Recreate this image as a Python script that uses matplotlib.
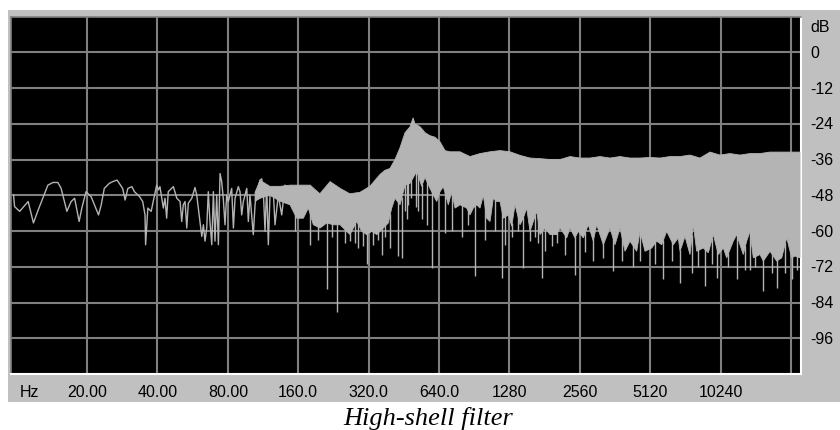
import matplotlib
matplotlib.use("Agg")
import matplotlib.pyplot as plt
from matplotlib.patches import Rectangle
from matplotlib.ticker import NullLocator
import numpy as np

# low end of the spectrum: the analyser draws a single trace here
trace_hz = [9.7, 9.8, 10.3, 11.2, 11.8, 12.3, 13.1, 13.6, 14.3, 15.0, 15.5, 16.4, 17.1, 17.7,
            18.5, 19.0, 19.8, 20.8, 22.4, 23.0, 23.7, 24.9, 25.8, 26.9, 28.4, 29.1, 29.9, 31.1,
            31.9, 33.5, 34.6, 35.4, 35.6, 36.4, 37.6, 39.7, 40.4, 41.0, 42.4, 43.1, 43.8, 44.5,
            46.8, 48.4, 50.0, 50.8, 51.6, 52.5, 53.4, 54.2, 56.1, 57.9, 58.9, 60.8, 61.9, 62.9,
            63.9, 65.0, 66.0, 67.1, 68.3, 69.4, 70.5, 71.7, 72.9, 74.1, 75.3, 76.5, 77.8, 79.1,
            80.4, 83.1, 84.5, 85.9, 88.7, 90.2, 91.7, 93.2, 96.4, 97.9, 99.5, 102.8, 104.6, 106.3,
            109.9, 111.7, 113.5, 115.4, 117.3, 119.2, 121.2, 125.2, 127.3, 131.5, 136.0, 140.5, 145.1]
trace_db = [-47.9, -51.8, -53.4, -50.1, -57.3, -53.4, -47.9, -44.6, -43.7, -43.7, -45.7, -53.4, -50.1, -49.0,
            -56.8, -52.3, -46.8, -48.4, -54.6, -51.2, -45.7, -44.0, -43.4, -42.9, -45.7, -49.6, -45.7, -45.1,
            -46.8, -48.4, -50.1, -54.6, -64.6, -52.3, -53.4, -44.6, -46.2, -45.1, -52.3, -49.0, -55.7, -46.8,
            -45.1, -49.0, -50.1, -56.8, -51.2, -50.1, -59.0, -50.7, -49.0, -45.4, -47.9, -56.8, -61.8, -57.9,
            -63.4, -59.0, -46.8, -56.8, -64.6, -46.8, -63.4, -47.9, -64.6, -40.7, -43.4, -49.0, -57.9, -47.9,
            -50.1, -45.7, -59.0, -49.0, -45.1, -46.8, -54.6, -50.1, -45.7, -56.8, -47.9, -61.2, -51.2, -46.8,
            -42.9, -42.5, -46.8, -60.1, -44.6, -64.6, -47.9, -46.8, -57.9, -47.9, -54.6, -44.6, -46.8]

# dense part: upper edge of the filled band
top_hz = [104.6, 110, 121, 134, 148, 163, 180, 198, 219, 242, 266, 294, 324, 358, 376, 395,
          415, 436, 458, 481, 496, 505, 531, 558, 586, 615, 646, 679, 713, 787, 868, 958,
          1057, 1167, 1288, 1421, 1568, 1731, 1910, 2108, 2325, 2566, 2831, 3124, 3448, 3804,
          4198, 4632, 5110, 5640, 6222, 6866, 7576, 8360, 9224, 10178, 11233, 12395, 13677,
          15093, 16655, 18378, 20280, 22380]
top_db = [-47, -43, -45, -45, -44.6, -44.6, -44.6, -47.5, -43.4, -45.7, -47.5, -47, -45, -41, -39.6, -39,
          -36, -32, -27, -25, -22, -24, -25, -27, -28, -28.5, -30, -33, -33.4, -33.4, -35, -34,
          -33.4, -33, -33.4, -34.6, -35.5, -35.7, -36, -36, -35, -35.5, -35.5, -35, -35.5, -35,
          -35.5, -35.5, -35.3, -35.5, -35, -35, -34.5, -35.5, -33.5, -34.5, -34, -34.5, -34,
          -34, -33.5, -33.5, -33.5, -33.5]

# dense part: ragged lower edge of the filled band
bottom_hz = [104.6, 110, 121, 134, 147.6, 157.7, 168.3, 176.7, 185.7, 198.3, 211.9, 226.1, 241.5,
             249.5, 266.5, 284.7, 299.0, 314.1, 330.0, 346.6, 369.9, 388.5, 401.7, 415.0, 436.0,
             458.0, 481.1, 513.9, 539.8, 557.6, 585.8, 605.1, 625.7, 646.4, 667.7, 701.4, 725.3,
             749.3, 787.1, 840.8, 868.5, 897.2, 927.7, 958.4, 990.0, 1023.7, 1057.6, 1092.5,
             1129.7, 1167, 1205.6, 1266.4, 1309.5, 1352.8, 1421, 1467.9, 1517.8, 1568, 1619.8,
             1675, 1730.3, 1817.5, 1909.4, 2039.5, 2106.8, 2250.6, 2325, 2442.2, 2522.9, 2650.2,
             2784, 2924.4, 3023.7, 3226.8, 3446.9, 3620.8, 3803.8, 3995.5, 4196.9, 4483.2, 4631.4,
             4865, 5196.7, 5458.8, 5734.1, 6023.9, 6428.4, 6752.7, 6866.4, 7213.4, 7577, 7827.4,
             8093.2, 8636.7, 9073.1, 9530.7, 10011, 10517, 10874, 11604, 12000, 12396, 12805,
             13240, 13678, 14130, 15095, 15594, 16658, 17793, 18691, 19634, 20624, 21306, 22380]
bottom_db = [-50, -49, -48, -50, -51.2, -55.7, -55.7, -52.3, -57.9, -59, -57.3, -57.9, -57.9,
             -59, -61.2, -56.8, -60.1, -61.2, -60.1, -61.2, -59, -57.3, -52.3, -49, -51.2,
             -44.6, -44, -40, -45, -42, -45.7, -47.9, -50.1, -46.8, -45.1, -51.2, -46.8,
             -52.3, -51.2, -52.3, -54.6, -52.3, -51.2, -52.3, -48, -55.7, -56.8, -49,
             -50.1, -50.1, -55.7, -54.6, -58.4, -51.2, -57.9, -55.7, -52.3, -60.1, -56.8,
             -53.4, -61.2, -59, -61.2, -61.2, -59, -62.3, -59, -62.3, -60.1, -62.3,
             -57.9, -63.4, -57.9, -64.6, -59, -64.6, -59, -66.8, -63.4, -66.8, -60.1,
             -66.8, -65.7, -63.4, -64.6, -60.1, -64.6, -62.3, -66.8, -61.8, -67.9, -57.9,
             -66.8, -65.7, -67.3, -61.2, -67.9, -65.7, -69, -63.4, -61.2, -64.6, -67.9,
             -63.4, -60.1, -69, -67.9, -70.1, -66.8, -70.1, -69, -62.3, -69, -68.4, -69]

# single bins that drop below the band
spike_hz = [155, 180, 194, 212, 223, 234, 254, 266, 280, 289, 303, 314, 335, 351, 364, 376, 395,
            429, 443, 458, 467, 473, 486, 510, 522, 541, 569, 596, 679, 728, 803, 852, 912,
            1007, 1111, 1187, 1226, 1313, 1393, 1468, 1568, 1647, 1701, 1759, 1817, 1947, 2046,
            2213, 2442, 2695, 2916, 3218, 3550, 3879, 4322, 4632, 5368, 5808, 6346, 6866, 7726,
            8200, 8784, 9410, 9886, 11014, 12036, 13024, 13677, 14372, 15552, 16996, 17854,
            19318, 20696, 21740]
spike_db = [-60, -64.6, -63, -79.6, -62, -87.3, -64, -63.4, -64, -65.7, -65, -71.2, -64.6, -63, -67.9, -62, -65.7,
            -68.4, -69, -53.4, -56, -51.2, -49, -52, -53.4, -56, -58, -72.3, -60.7, -60, -62, -58, -75.1,
            -63, -60, -75.7, -64.6, -62, -60, -72.3, -63.4, -62, -64, -75.7, -66.8, -65, -64,
            -68, -74.6, -67, -70, -69, -73.4, -70, -72, -70, -71, -76.2, -70, -77.3, -74,
            -72, -78.4, -71, -75.7, -72, -76.2, -73, -73, -72, -80.1, -74, -79,
            -74, -76.2, -73]

freq_ticks = [20, 40, 80, 160, 320, 640, 1280, 2560, 5120, 10240, 20480]
freq_labels = ["20.00", "40.00", "80.00", "160.0", "320.0", "640.0", "1280", "2560", "5120", "10240", ""]
db_ticks = [0, -12, -24, -36, -48, -60, -72, -84, -96]
db_labels = ["0", "-12", "-24", "-36", "-48", "-60", "-72", "-84", "-96"]

spec_color = "#b4b4b4"
W, H = 840, 431

fig = plt.figure(figsize=(W / 100, H / 100), dpi=100)
fig.patch.set_facecolor("white")

# grey window panel behind the display
fig.add_artist(Rectangle((8 / W, 1 - 403 / H), 832 / W, 392 / H, transform=fig.transFigure,
                         facecolor="#c0c0c0", edgecolor="none", zorder=0))

ax = fig.add_axes([11 / W, 1 - 375 / H, 790 / W, 357 / H])
ax.set_facecolor("black")
ax.set_xscale("log")
ax.set_xlim(9.46, 22600)
ax.set_ylim(-108, 11.85)
ax.set_xticks(freq_ticks)
ax.set_yticks(db_ticks)
ax.xaxis.set_minor_locator(NullLocator())
ax.tick_params(length=0, labelbottom=False, labelleft=False)
ax.grid(True, color="#808080", linewidth=1.5)
ax.set_axisbelow(True)

for side in ["top", "left"]:
    ax.spines[side].set_color("#808080")
    ax.spines[side].set_linewidth(1.2)
for side in ["bottom", "right"]:
    ax.spines[side].set_color("white")
    ax.spines[side].set_linewidth(1.5)

poly_x = np.concatenate([top_hz, bottom_hz[::-1]])
poly_y = np.concatenate([top_db, bottom_db[::-1]])
ax.fill(poly_x, poly_y, color=spec_color, linewidth=0.6, edgecolor=spec_color, zorder=3)
ax.plot(trace_hz, trace_db, color=spec_color, linewidth=1.0, zorder=3)
spike_top = np.interp(np.log(spike_hz), np.log(bottom_hz), bottom_db) + 0.5
ax.vlines(spike_hz, spike_db, spike_top, color=spec_color, linewidth=1.0, zorder=3)

lab = dict(family="Liberation Sans", fontsize=11.5, color="black")
xt = ax.get_xaxis_transform()
ax.text(0.0228, -0.05, "Hz", transform=ax.transAxes, ha="center", va="center", clip_on=False, **lab)
for f, s in zip(freq_ticks, freq_labels):
    ax.text(f, -0.05, s, transform=xt, ha="center", va="center", clip_on=False, **lab)

yt = ax.get_yaxis_transform()
ax.text(1.0114, 0.972, "dB", transform=ax.transAxes, ha="left", va="center", clip_on=False, **lab)
for v, s in zip(db_ticks, db_labels):
    ax.text(1.0114, v, s, transform=yt, ha="left", va="center", clip_on=False, **lab)

fig.text(428 / W, 1 - 419 / H, "High-shell filter", family="Liberation Serif", style="italic",
         fontsize=19, ha="center", va="center")

fig.savefig("out.png", dpi=100)
